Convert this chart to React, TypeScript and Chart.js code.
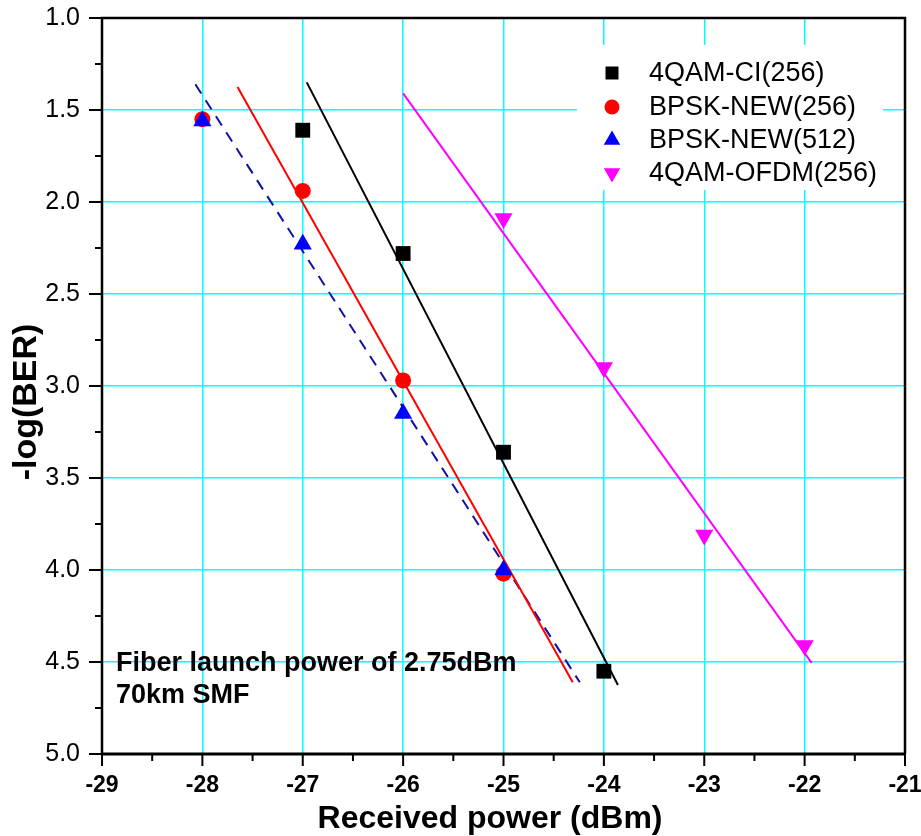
import React, { useEffect, useRef } from "react";
import { Chart, registerables } from "chart.js";

Chart.register(...registerables);

// ---- data ----
const seriesNames = ["4QAM-CI(256)", "BPSK-NEW(256)", "BPSK-NEW(512)", "4QAM-OFDM(256)"];

const ciX = [-27, -26, -25, -24];
const ciY = [1.61, 2.28, 3.36, 4.55];
const bpsk256X = [-28, -27, -26, -25];
const bpsk256Y = [1.55, 1.94, 2.97, 4.02];
const bpsk512X = [-28, -27, -26, -25];
const bpsk512Y = [1.56, 2.23, 3.15, 4.0];
const ofdmX = [-25, -24, -23, -22];
const ofdmY = [2.09, 2.9, 3.81, 4.41];

// fitted lines (endpoints)
const ciFitX = [-26.96, -23.86];
const ciFitY = [1.35, 4.625];
const bpsk256FitX = [-27.65, -24.31];
const bpsk256FitY = [1.375, 4.61];
const bpsk512FitX = [-28.07, -24.24];
const bpsk512FitY = [1.36, 4.61];
const ofdmFitX = [-26.0, -21.93];
const ofdmFitY = [1.41, 4.505];

const xMin = -29;
const xMax = -21;
const yMin = 1.0;
const yMax = 5.0;

const xTitle = "Received power (dBm)";
const yTitle = "-log(BER)";
const noteLines = ["Fiber launch power of 2.75dBm", "70km SMF"];

const FONT = "'Liberation Sans', Arial, Helvetica, sans-serif";

const pts = (xs: number[], ys: number[]) => xs.map((x, i) => ({ x, y: ys[i] }));

const colors = ["#000000", "#ff0000", "#0000ff", "#ff00ff"];

function drawShape(ctx: CanvasRenderingContext2D, kind: string, x: number, y: number, r: number, color: string) {
  ctx.save();
  ctx.fillStyle = color;
  ctx.beginPath();
  if (kind === "rect") {
    ctx.rect(x - r, y - r, 2 * r, 2 * r);
  } else if (kind === "circle") {
    ctx.arc(x, y, r, 0, Math.PI * 2);
  } else if (kind === "up") {
    ctx.moveTo(x, y - r);
    ctx.lineTo(x + r * 0.866, y + r * 0.5);
    ctx.lineTo(x - r * 0.866, y + r * 0.5);
  } else {
    ctx.moveTo(x, y + r);
    ctx.lineTo(x + r * 0.866, y - r * 0.5);
    ctx.lineTo(x - r * 0.866, y - r * 0.5);
  }
  ctx.closePath();
  ctx.fill();
  ctx.restore();
}

const zeroPad = (s: any) => {
  s.paddingTop = 0;
  s.paddingBottom = 0;
  s.paddingLeft = 0;
  s.paddingRight = 0;
};

const decorPlugin = {
  id: "decor",
  beforeDatasetsDraw(chart: any) {
    const ctx = chart.ctx as CanvasRenderingContext2D;
    // legend white box (hides grid)
    ctx.save();
    ctx.fillStyle = "#ffffff";
    ctx.fillRect(577, 45, 306, 145);
    ctx.restore();
  },
  afterDraw(chart: any) {
    const ctx = chart.ctx as CanvasRenderingContext2D;
    const { left, right, top, bottom } = chart.chartArea;
    const xs = chart.scales.x;
    const ys = chart.scales.y;

    ctx.save();
    // frame
    ctx.strokeStyle = "#000";
    ctx.lineWidth = 2.5;
    ctx.beginPath();
    ctx.moveTo(left, bottom);
    ctx.lineTo(left, top);
    ctx.lineTo(right, top);
    ctx.lineTo(right, bottom);
    ctx.stroke();
    ctx.lineWidth = 3;
    ctx.beginPath();
    ctx.moveTo(left - 1, bottom);
    ctx.lineTo(right + 1, bottom);
    ctx.stroke();

    // ticks
    ctx.lineWidth = 2;
    for (let i = 0; i <= (xMax - xMin) * 2; i++) {
      const v = xMin + i * 0.5;
      const px = xs.getPixelForValue(v);
      const len = i % 2 === 0 ? 12 : 7;
      ctx.beginPath();
      ctx.moveTo(px, bottom);
      ctx.lineTo(px, bottom + len);
      ctx.stroke();
    }
    for (let i = 0; i <= (yMax - yMin) * 4; i++) {
      const v = yMin + i * 0.25;
      const py = ys.getPixelForValue(v);
      const len = i % 2 === 0 ? 13 : 7;
      ctx.beginPath();
      ctx.moveTo(left, py);
      ctx.lineTo(left - len, py);
      ctx.stroke();
    }

    // legend
    const kinds = ["rect", "circle", "up", "down"];
    const sizes = [6.5, 7.5, 9.5, 9.5];
    const rowY = [73, 107, 140, 173];
    ctx.font = `27px ${FONT}`;
    ctx.textBaseline = "middle";
    ctx.textAlign = "left";
    seriesNames.forEach((name, i) => {
      drawShape(ctx, kinds[i], 612, rowY[i], sizes[i], colors[i]);
      ctx.fillStyle = "#000";
      ctx.fillText(name, 649, rowY[i] + 1);
    });

    // annotation
    ctx.font = `bold 27px ${FONT}`;
    ctx.fillStyle = "#000";
    ctx.fillText(noteLines[0], 116, 664);
    ctx.fillText(noteLines[1], 116, 696);

    // axis titles
    ctx.font = `bold 32px ${FONT}`;
    ctx.textAlign = "center";
    ctx.fillText(xTitle, 490, 819);
    ctx.translate(27, 402);
    ctx.rotate(-Math.PI / 2);
    ctx.font = `bold 34px ${FONT}`;
    ctx.fillText(yTitle, 0, 0);
    ctx.restore();
  },
};

export default function App() {
  const ref = useRef<HTMLCanvasElement | null>(null);

  useEffect(() => {
    if (!ref.current) return;
    const gridColor = (edgeA: number, edgeB: number) => (c: any) => {
      const v = c.tick ? c.tick.value : null;
      if (v === null) return "rgba(0,0,0,0)";
      return Math.abs(v - edgeA) < 1e-9 || Math.abs(v - edgeB) < 1e-9 ? "rgba(0,0,0,0)" : "#00ffff";
    };

    const chart = new Chart(ref.current, {
      type: "scatter",
      data: {
        datasets: [
          {
            label: seriesNames[2],
            data: pts(bpsk512X, bpsk512Y),
            pointStyle: "triangle",
            pointRadius: 10.5,
            pointBackgroundColor: colors[2],
            pointBorderWidth: 0,
            showLine: false,
            order: 0,
          },
          {
            label: seriesNames[1],
            data: pts(bpsk256X, bpsk256Y),
            pointStyle: "circle",
            pointRadius: 8,
            pointBackgroundColor: colors[1],
            pointBorderWidth: 0,
            showLine: false,
            order: 1,
          },
          {
            label: seriesNames[0],
            data: pts(ciX, ciY),
            pointStyle: "rect",
            pointRadius: 10.5,
            pointBackgroundColor: colors[0],
            pointBorderWidth: 0,
            showLine: false,
            order: 2,
          },
          {
            label: seriesNames[3],
            data: pts(ofdmX, ofdmY),
            pointStyle: "triangle",
            pointRotation: 180,
            pointRadius: 10.5,
            pointBackgroundColor: colors[3],
            pointBorderWidth: 0,
            showLine: false,
            order: 3,
          },
          {
            label: "fit-ci",
            data: pts(ciFitX, ciFitY),
            showLine: true,
            borderColor: colors[0],
            borderWidth: 2,
            pointRadius: 0,
            order: 10,
          },
          {
            label: "fit-bpsk256",
            data: pts(bpsk256FitX, bpsk256FitY),
            showLine: true,
            borderColor: colors[1],
            borderWidth: 2,
            pointRadius: 0,
            order: 11,
          },
          {
            label: "fit-bpsk512",
            data: pts(bpsk512FitX, bpsk512FitY),
            showLine: true,
            borderColor: "#1010a8",
            borderWidth: 2,
            borderDash: [11, 8],
            pointRadius: 0,
            order: 12,
          },
          {
            label: "fit-ofdm",
            data: pts(ofdmFitX, ofdmFitY),
            showLine: true,
            borderColor: colors[3],
            borderWidth: 2,
            pointRadius: 0,
            order: 13,
          },
        ],
      },
      options: {
        animation: false,
        responsive: false,
        devicePixelRatio: 1,
        events: [],
        layout: { padding: { top: 18, right: 16, left: 0, bottom: 0 } },
        plugins: {
          legend: { display: false },
          tooltip: { enabled: false },
        },
        scales: {
          x: {
            type: "linear",
            min: xMin,
            max: xMax,
            afterFit: (s: any) => {
              s.height = 82;
              zeroPad(s);
            },
            border: { display: false },
            grid: { color: gridColor(xMin, xMax), lineWidth: 1.5, drawTicks: false },
            ticks: {
              stepSize: 1,
              padding: 18,
              color: "#000",
              font: { family: FONT, size: 23, weight: "bold" },
              callback: (v: any) => String(v),
            },
          },
          y: {
            type: "linear",
            reverse: true,
            min: yMin,
            max: yMax,
            afterFit: (s: any) => {
              s.width = 102;
              zeroPad(s);
            },
            border: { display: false },
            grid: { color: gridColor(yMin, yMax), lineWidth: 1.5, drawTicks: false },
            ticks: {
              stepSize: 0.5,
              padding: 22,
              color: "#000",
              font: { family: FONT, size: 25 },
              callback: (v: any) => Number(v).toFixed(1),
            },
          },
        },
      } as any,
      plugins: [decorPlugin],
    });
    return () => chart.destroy();
  }, []);

  return (
    <div style={{ position: "absolute", left: 0, top: 0, width: 921, height: 836, background: "#fff" }}>
      <canvas ref={ref} width={921} height={836} style={{ display: "block", width: 921, height: 836 }} />
    </div>
  );
}
